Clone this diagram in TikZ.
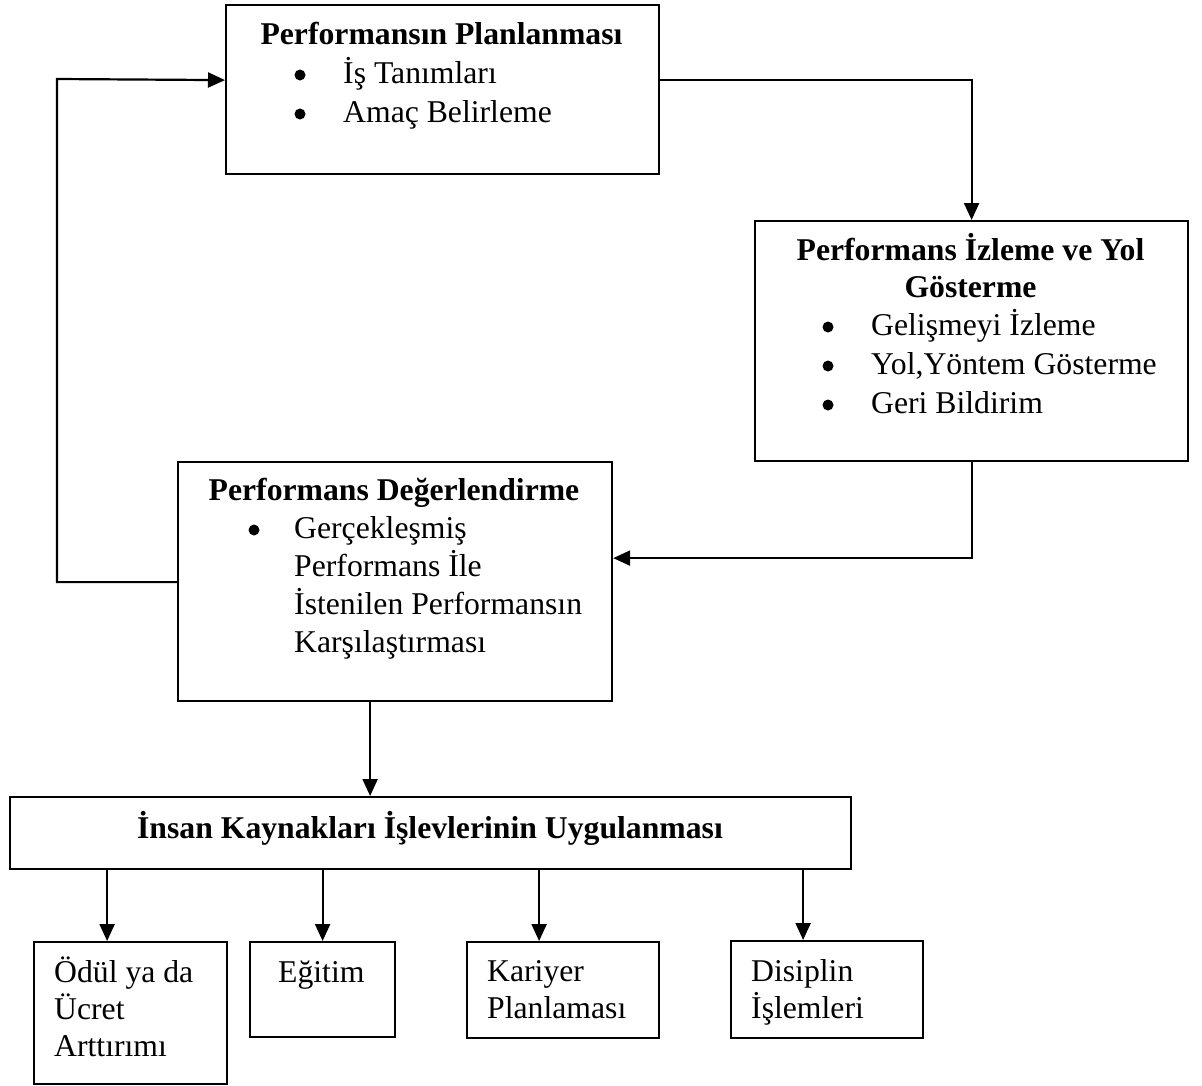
\documentclass[tikz,border=0pt]{standalone}
\usepackage{fontspec}
\setmainfont{Liberation Serif}
\usetikzlibrary{arrows.meta}

\begin{document}
\begin{tikzpicture}[x=1pt,y=-1pt,
  box/.style={draw, line width=2.2pt, rectangle, inner sep=0pt, anchor=north west},
  txt/.style={anchor=base west, inner sep=0pt, font=\fontsize{31.7pt}{38pt}\selectfont},
  bul/.style={circle, fill, inner sep=0pt, minimum size=11pt},
  ttl/.style={anchor=base, inner sep=0pt, font=\fontsize{31.7pt}{38pt}\selectfont\bfseries},
  link/.style={line width=2.2pt, -{Triangle[length=17pt,width=15pt]}}]
\useasboundingbox (0,0) rectangle (1202,1085);

% boxes
\node[box, minimum width=433pt, minimum height=169pt] (plan) at (225,4) {};
\node[box, minimum width=433pt, minimum height=240pt] (izle) at (754,220) {};
\node[box, minimum width=434pt, minimum height=239pt] (deger) at (177,461) {};
\node[box, minimum width=841pt, minimum height=72pt] (ik) at (9,796) {};
\node[box, minimum width=193pt, minimum height=142pt] (odul) at (33,941) {};
\node[box, minimum width=145pt, minimum height=95pt] (egitim) at (249,941) {};
\node[box, minimum width=192pt, minimum height=96pt] (kariyer) at (466,941) {};
\node[box, minimum width=192pt, minimum height=97pt] (disiplin) at (730,940) {};

% planning
\node[ttl] (planT) at (441.5,44) {Performansın Planlanması};
\node[bul] (planB1) at (300,75) {};
\node[txt] (planL1) at (343,83) {İş Tanımları};
\node[bul] (planB2) at (300,114) {};
\node[txt] (planL2) at (343,122) {Amaç Belirleme};

% monitoring
\node[ttl] (izleT1) at (970.5,260) {Performans İzleme ve Yol};
\node[ttl] (izleT2) at (970.5,297) {Gösterme};
\node[bul] (izleB1) at (828,327) {};
\node[txt] (izleL1) at (871,335) {Gelişmeyi İzleme};
\node[bul] (izleB2) at (828,366) {};
\node[txt] (izleL2) at (871,374) {Yol,Yöntem Gösterme};
\node[bul] (izleB3) at (828,405) {};
\node[txt] (izleL3) at (871,413) {Geri Bildirim};

% evaluation
\node[ttl] (degerT) at (394,500) {Performans Değerlendirme};
\node[bul] (degerB1) at (254,530) {};
\node[txt] (degerL1) at (294,538) {Gerçekleşmiş};
\node[txt] (degerL2) at (294,576) {Performans İle};
\node[txt] (degerL3) at (294,614) {İstenilen Performansın};
\node[txt] (degerL4) at (294,652) {Karşılaştırması};

% HR functions
\node[ttl] (ikT) at (430,838) {İnsan Kaynakları İşlevlerinin Uygulanması};

\node[txt] (odulL1) at (54,982) {Ödül ya da};
\node[txt] (odulL2) at (54,1019) {Ücret};
\node[txt] (odulL3) at (54,1056) {Arttırımı};
\node[txt] (egitimL1) at (278,982) {Eğitim};
\node[txt] (kariyerL1) at (487,981) {Kariyer};
\node[txt] (kariyerL2) at (487,1018) {Planlaması};
\node[txt] (disiplinL1) at (751,981) {Disiplin};
\node[txt] (disiplinL2) at (751,1018) {İşlemleri};

% cycle connectors
\draw[link] ([yshift=9.5pt]plan.east) -| (izle.north);
\draw[link] (izle.south) |- ([yshift=23.5pt]deger.east);
\coordinate (loop) at (57,79);
\draw[link] ([yshift=-0.5pt]deger.west) -| (loop) -- ([yshift=9.5pt]plan.west);
\draw[link] ([xshift=-25pt]deger.south) -- ([xshift=-25pt]deger.south |- ik.north);

% branches to the HR functions
\draw[link] ([xshift=-23.5pt]odul.north |- ik.south) -- ([xshift=-23.5pt]odul.north);
\draw[link] (egitim.north |- ik.south) -- (egitim.north);
\draw[link] ([xshift=-24pt]kariyer.north |- ik.south) -- ([xshift=-24pt]kariyer.north);
\draw[link] ([xshift=-24pt]disiplin.north |- ik.south) -- ([xshift=-24pt]disiplin.north);
\end{tikzpicture}
\end{document}
